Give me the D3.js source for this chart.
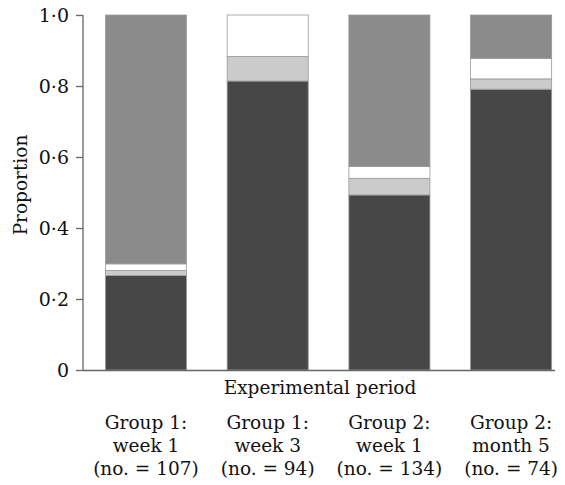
<!DOCTYPE html>
<html><head><meta charset="utf-8">
<script src="https://cdn.jsdelivr.net/npm/d3@7"></script>
<style>body{margin:0;background:#fff}svg{display:block}</style>
</head><body>
<script>
const categories = ["Group 1:|week 1|(no. = 107)", "Group 1:|week 3|(no. = 94)", "Group 2:|week 1|(no. = 134)", "Group 2:|month 5|(no. = 74)"];
const darkValues = [0.266, 0.814, 0.493, 0.791];
const lightValues = [0.014, 0.069, 0.047, 0.029];
const whiteValues = [0.019, 0.117, 0.033, 0.058];
const mediumValues = [0.701, 0.000, 0.427, 0.122];
const yTicks = [0, 0.2, 0.4, 0.6, 0.8, 1.0];
const yTickLabels = ["0", "0·2", "0·4", "0·6", "0·8", "1·0"];

const W = 565, H = 485;
const font = "'DejaVu Serif', 'Liberation Serif', serif";
const fs = 18.5;
const svg = d3.select("body").append("svg").attr("width", W).attr("height", H);

const x = d3.scaleBand().domain(categories).range([83, 555]).paddingInner(0.334).paddingOuter(0.106).align(0.87);
const y = d3.scaleLinear().domain([0, 1]).range([370, 15]);

const seriesNames = ["dark", "light", "white", "medium"];
const seriesData = { dark: darkValues, light: lightValues, white: whiteValues, medium: mediumValues };
const colors = { dark: "#474747", light: "#cbcbcb", white: "#ffffff", medium: "#8b8b8b" };
const rows = categories.map((c, i) => {
  const r = { cat: c };
  seriesNames.forEach(s => r[s] = seriesData[s][i]);
  return r;
});
const stacked = d3.stack().keys(seriesNames)(rows);

svg.append("g").selectAll("g").data(stacked).join("g")
  .attr("fill", d => colors[d.key])
  .selectAll("rect").data(d => d.filter(p => p[1] - p[0] > 0)).join("rect")
  .attr("x", d => x(d.data.cat))
  .attr("width", x.bandwidth())
  .attr("y", d => y(d[1]))
  .attr("height", d => y(d[0]) - y(d[1]))
  .attr("stroke", "#999")
  .attr("stroke-width", 0.8);

// y axis
const yAxis = d3.axisLeft(y).tickValues(yTicks).tickFormat((d, i) => yTickLabels[i]).tickSize(7).tickPadding(7);
const gy = svg.append("g").attr("transform", "translate(83,0)").call(yAxis);
gy.select(".domain").attr("stroke", "#666").attr("stroke-width", 1.3).attr("d", "M0,15V370.5");
gy.selectAll(".tick line").attr("stroke", "#666").attr("stroke-width", 1.3);
gy.selectAll(".tick text").attr("font-family", font).attr("font-size", 19).attr("fill", "#111");

// baseline
svg.append("line").attr("x1", 83).attr("x2", 555).attr("y1", y(0) + 0.5).attr("y2", y(0) + 0.5)
  .attr("stroke", "#666").attr("stroke-width", 1.5);

// y label
svg.append("text").attr("transform", "translate(27,185) rotate(-90)").attr("text-anchor", "middle")
  .attr("font-family", font).attr("font-size", fs).attr("fill", "#111").text("Proportion");

// x label
svg.append("text").attr("x", 320).attr("y", 394).attr("text-anchor", "middle")
  .attr("font-family", font).attr("font-size", fs).attr("fill", "#111").text("Experimental period");

// category labels
const xl = svg.append("g");
categories.forEach(c => {
  const t = xl.append("text").attr("text-anchor", "middle").attr("font-family", font).attr("font-size", fs).attr("fill", "#111");
  c.split("|").forEach((line, j) => {
    t.append("tspan").attr("x", x(c) + x.bandwidth() / 2).attr("y", 429 + j * 23).text(line);
  });
});
</script>
</body></html>
